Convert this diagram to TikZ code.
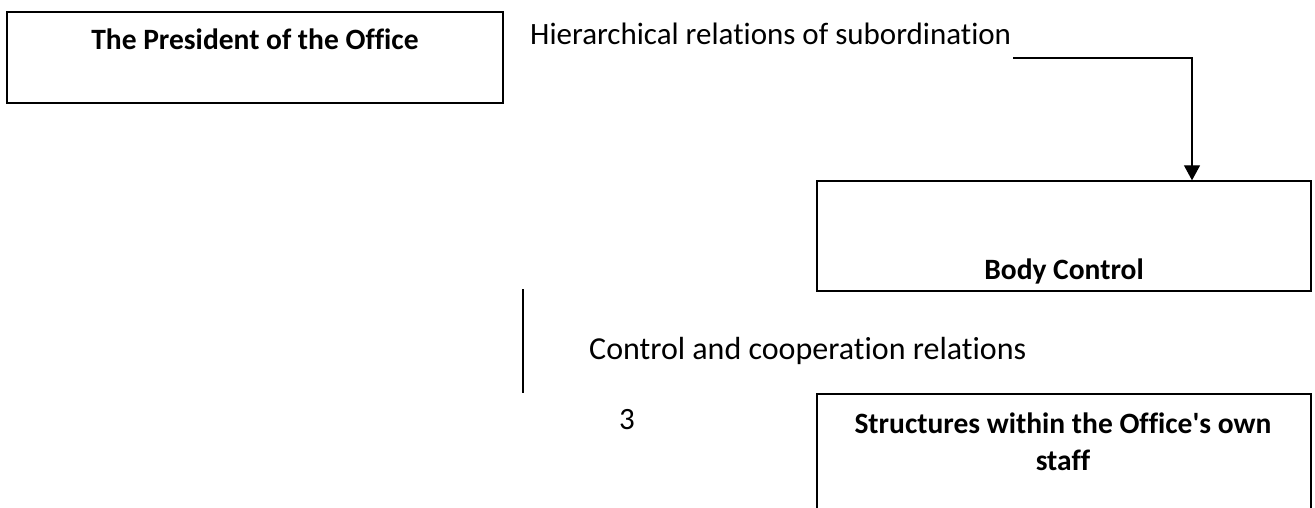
\documentclass[tikz,border=0pt]{standalone}
\usepackage{fontspec}
\newfontfamily\calib{Carlito}[Ligatures=NoCommon]
\usetikzlibrary{arrows.meta}
\begin{document}
\begin{tikzpicture}[x=1pt,y=-1pt,
  box/.style={draw=black,line width=1.4pt,rectangle,inner sep=0pt},
  lbl/.style={anchor=base west,inner sep=0pt,font=\calib\fontsize{31}{37}\selectfont},
  boxtext/.style={anchor=base,inner sep=0pt,font=\calib\fontsize{29.5}{37}\selectfont\bfseries,align=center},
  conn/.style={draw=black,line width=1.3pt},
  arr/.style={conn,-{Triangle[width=16pt,length=15pt]}}]
\useasboundingbox (0,0) rectangle (1315,508);
\clip (0,0) rectangle (1315,508);
% boxes
\node[box,minimum width=496pt,minimum height=91pt] (pres) at (255,57.5) {};
\node[boxtext] (prestext) at (255,50) {The President of the Office};
\node[box,minimum width=494pt,minimum height=110pt] (body) at (1064,236) {};
\node[boxtext] (bodytext) at (1064,279) {Body Control};
\node[box,minimum width=494pt,minimum height=136pt] (struct) at (1064,462) {};
\node[boxtext] (structtext) at (1063,433) {Structures within the Office's own};
\node[boxtext] (structtext2) at (1063,470) {staff};
% labels
\node[lbl] (hier) at (530,45) {Hierarchical relations of subordination};
\node[lbl,font=\calib\fontsize{32}{37}\selectfont] (ctrl) at (589,359) {Control and cooperation relations};
\node[lbl] (three) at (619,429) {3};
% connectors
\coordinate (hstart) at (1013,58);
\draw[arr] (hstart) -| (body.north -| 1192,0);
\coordinate (vtop) at (523,289);
\coordinate (vbot) at (523,393);
\draw[conn,line width=1.1pt] (vtop) -- (vbot);
\end{tikzpicture}
\end{document}
